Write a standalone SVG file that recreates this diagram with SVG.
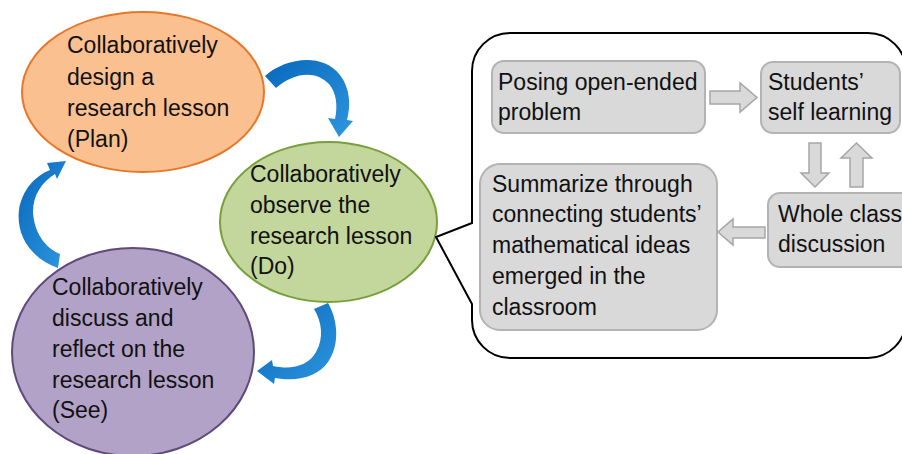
<svg xmlns="http://www.w3.org/2000/svg" width="902" height="454" viewBox="0 0 902 454">
<style>
text{font-family:"Liberation Sans",Arial,sans-serif;font-size:23px;fill:#111}
.box{fill:#D9D9D9;stroke:#B3B3B3;stroke-width:2}
.blk{fill:#D9D9D9;stroke:#A6A6A6;stroke-width:1.5}
.cv{fill:url(#bl)}
</style>
<defs>
<linearGradient id="bl" x1="0" y1="0" x2="1" y2="1">
<stop offset="0" stop-color="#0868BC"/>
<stop offset="1" stop-color="#2E96DF"/>
</linearGradient>
</defs>
<rect width="902" height="454" fill="#fff"/>
<g id="plan">
<ellipse cx="143" cy="92" rx="121" ry="80" fill="#FAC090" stroke="#E8772A" stroke-width="2"/>
<text x="67" y="53">Collaboratively</text>
<text x="67" y="85">design a</text>
<text x="67" y="116">research lesson</text>
<text x="67" y="147">(Plan)</text>
</g>
<g id="do">
<ellipse cx="328.5" cy="222" rx="108.5" ry="80" fill="#C3D69B" stroke="#77A03A" stroke-width="2"/>
<text x="250" y="182">Collaboratively</text>
<text x="250" y="213">observe the</text>
<text x="250" y="244">research lesson</text>
<text x="250" y="274">(Do)</text>
</g>
<g id="see">
<ellipse cx="133" cy="352" rx="121" ry="104" fill="#B3A2C7" stroke="#5F4A7B" stroke-width="2"/>
<text x="52" y="295">Collaboratively</text>
<text x="52" y="326">discuss and</text>
<text x="52" y="357">reflect on the</text>
<text x="52" y="388">research lesson</text>
<text x="52" y="418">(See)</text>
</g>
<g id="callout">
<path d="M472,223 L472,71 A38,38 0 0 1 510,33 L868,33 A38,38 0 0 1 906,71 L906,320 A38,38 0 0 1 868,358 L510,358 A38,38 0 0 1 472,320 L472,304 L436,237 Z" fill="#fff" stroke="#000" stroke-width="2" stroke-linejoin="miter"/>
</g>
<g id="posing">
<rect class="box" x="492" y="61" width="213" height="72" rx="12"/>
<text x="498" y="90">Posing open-ended</text>
<text x="498" y="120">problem</text>
</g>
<g id="self">
<rect class="box" x="761" y="62" width="139" height="71" rx="12"/>
<text x="768" y="90">Students’</text>
<text x="768" y="120">self learning</text>
</g>
<g id="whole">
<rect class="box" x="768" y="193" width="150" height="74" rx="12"/>
<text x="778" y="222">Whole class</text>
<text x="778" y="252">discussion</text>
</g>
<g id="summarize">
<rect class="box" x="480" y="164" width="237" height="166" rx="20"/>
<text x="492" y="192">Summarize through</text>
<text x="492" y="222">connecting students’</text>
<text x="492" y="253">mathematical ideas</text>
<text x="492" y="284">emerged in the</text>
<text x="492" y="315">classroom</text>
</g>
<g id="connectors">
<path class="cv" d="M265,76 C285,58 322,52 340,75 C350,88 351,105 347,120 L353,121 L339,137 L328,118 L335,119 C338,105 336,92 329,84 C316,70 294,72 276,88 Z"/>
<path class="cv" d="M328,303 C338,320 340,345 328,362 C318,376 300,382 275,378 L274,384 L257,371 L272,360 L273,366 C292,370 308,366 316,352 C324,338 322,322 314,309 Z"/>
<path class="cv" d="M58,268 C30,258 16,235 19,210 C22,190 35,176 50,170 L47,163 L66,161 L57,179 L55,174 C42,182 33,195 33,212 C34,232 45,248 60,254 Z"/>
<polygon class="blk" points="710,91 740,91 740,83 757,97.5 740,112 740,104 710,104"/>
<polygon class="blk" points="809,143 821,143 821,173 829,173 815,187 801,173 809,173"/>
<polygon class="blk" points="850,187 863,187 863,158 872,158 856.5,143 841,158 850,158"/>
<polygon class="blk" points="765,227 733,227 733,219 718,232 733,245 733,238 765,238"/>
</g>
</svg>
